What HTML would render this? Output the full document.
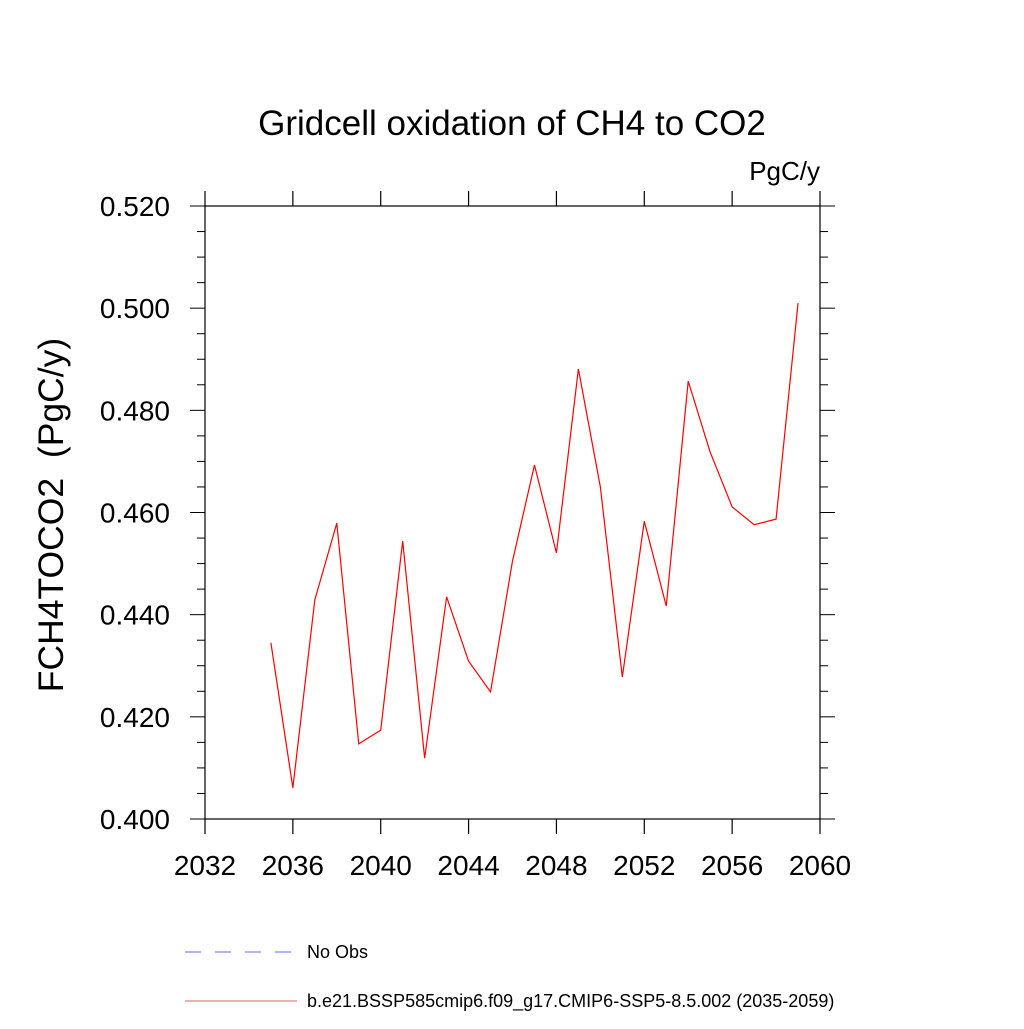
<!DOCTYPE html>
<html><head><meta charset="utf-8"><style>
body{margin:0;background:#fff}
svg text{font-family:"Liberation Sans",Helvetica,sans-serif;fill:#000}
</style></head><body>
<svg width="1024" height="1024" viewBox="0 0 1024 1024">
<text x="512" y="135" font-size="35" text-anchor="middle">Gridcell oxidation of CH4 to CO2</text>
<text x="820" y="180" font-size="26" text-anchor="end">PgC/y</text>
<text transform="translate(63,515) rotate(-90)" font-size="35.5" text-anchor="middle" style="white-space:pre">FCH4TOCO2  (PgC/y)</text>
<g id="axes"></g>
<polyline id="series" fill="none" stroke="#ff0000" stroke-width="1.2"/>
<line x1="185" y1="952" x2="295" y2="952" stroke="#6666ff" stroke-width="1" stroke-dasharray="16,14"/>
<text x="307" y="958" font-size="18">No Obs</text>
<line x1="185" y1="1001" x2="297" y2="1001" stroke="#e06060" stroke-width="1"/>
<text x="307" y="1007" font-size="18">b.e21.BSSP585cmip6.f09_g17.CMIP6-SSP5-8.5.002 (2035-2059)</text>
</svg>
<script>
const years=[2035,2036,2037,2038,2039,2040,2041,2042,2043,2044,2045,2046,2047,2048,2049,2050,2051,2052,2053,2054,2055,2056,2057,2058,2059];
const values=[0.4345,0.4061,0.4429,0.4579,0.4147,0.4174,0.4544,0.4119,0.4435,0.4309,0.4249,0.4505,0.4693,0.4521,0.4881,0.4650,0.4278,0.4583,0.4417,0.4857,0.4718,0.4611,0.4576,0.4587,0.5010];
const xTicks=[2032,2036,2040,2044,2048,2052,2056,2060];
const yTicks=[0.400,0.420,0.440,0.460,0.480,0.500,0.520];
const L=205,R=820,T=206,B=819,x0=2032,x1=2060,y0=0.4,y1=0.52;
const X=v=>L+(v-x0)/(x1-x0)*(R-L);
const Y=v=>B-(v-y0)/(y1-y0)*(B-T);
const NS='http://www.w3.org/2000/svg';
const g=document.getElementById('axes');
function ln(a,b,c,d,w,name){const e=document.createElementNS(NS,'line');e.setAttribute('x1',a);e.setAttribute('y1',b);e.setAttribute('x2',c);e.setAttribute('y2',d);e.setAttribute('stroke','#000');e.setAttribute('stroke-width',w);


g.appendChild(e);}
function tx(x,y,s,anchor,name){const e=document.createElementNS(NS,'text');e.setAttribute('x',x);e.setAttribute('y',y);e.setAttribute('font-size','28');e.setAttribute('text-anchor',anchor);e.textContent=s;


g.appendChild(e);}
const fr=document.createElementNS(NS,'rect');fr.setAttribute('x',L);fr.setAttribute('y',T);fr.setAttribute('width',R-L);fr.setAttribute('height',B-T);fr.setAttribute('fill','none');fr.setAttribute('stroke','#000');fr.setAttribute('stroke-width','1.2');


g.appendChild(fr);
xTicks.forEach(v=>{const x=X(v);ln(x,B,x,B+15,1.2,'x-tick');ln(x,T,x,T-15,1.2,'x-tick-top');tx(x,B+56,String(v),'middle','x-tick-label');});
for(let i=0;i<=24;i++){const v=y0+i*0.005;const y=Y(v);const len=(i%4===0)?15:8;ln(L-len,y,L,y,1,'y-tick');ln(R,y,R+len,y,1,'y-tick-right');}
yTicks.forEach(v=>{tx(L-35,Y(v)+10,v.toFixed(3),'end','y-tick-label');});
document.getElementById('series').setAttribute('points',years.map((y,i)=>X(y)+','+Y(values[i])).join(' '));
</script>
</body></html>
